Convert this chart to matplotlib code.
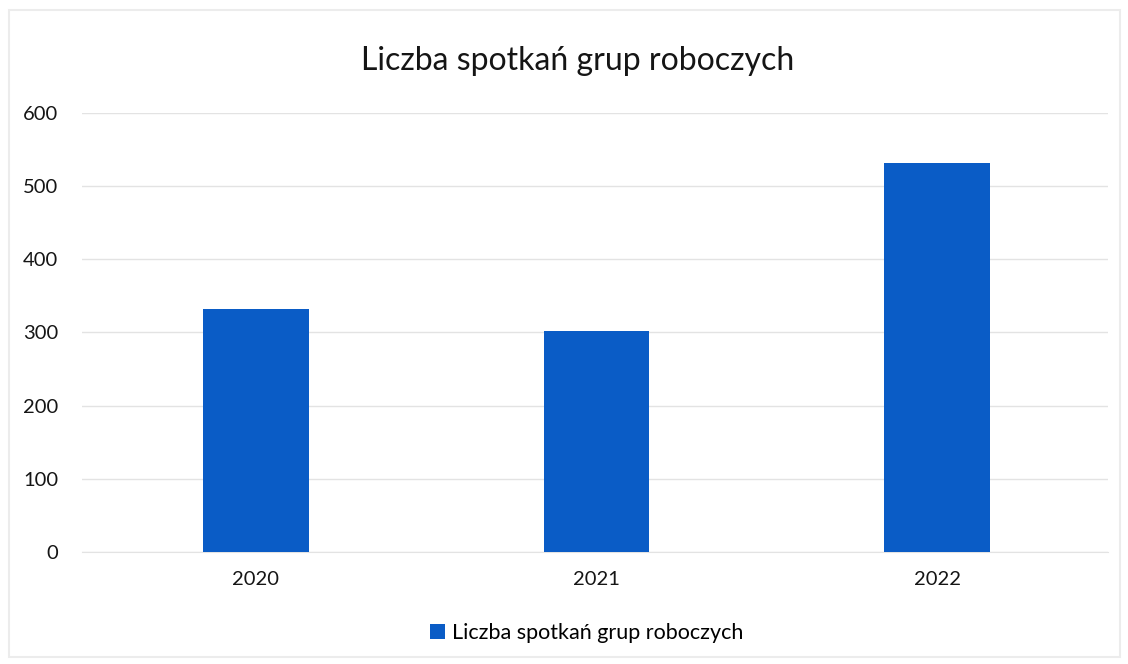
import matplotlib.pyplot as plt

# data
years = ['2020', '2021', '2022']
meetings = [332, 302, 532]
series_name = 'Liczba spotkań grup roboczych'

plt.rcParams['font.family'] = ['Lato', 'DejaVu Sans']

fig = plt.figure(figsize=(11.28, 6.64), dpi=100)
ax = fig.add_axes([0.0727, 0.1687, 0.9093, 0.6613])

bar_color = '#0a5cc6'
ax.bar(range(len(years)), meetings, width=0.31, color=bar_color,
       label=series_name, zorder=3)

ax.set_ylim(0, 600)
ax.set_xlim(-0.51, 2.5)
ax.set_yticks(range(0, 601, 100))
ax.set_xticks(range(len(years)))
ax.set_xticklabels(years)
ax.grid(axis='y', color='#e3e3e3', linewidth=1, zorder=0)
for side in ['top', 'right', 'left']:
    ax.spines[side].set_visible(False)
ax.spines['bottom'].set_color('#e3e3e3')
ax.tick_params(axis='both', length=0, labelsize=14.5, colors='#151515')
ax.tick_params(axis='y', pad=17)
ax.tick_params(axis='x', pad=14)

fig.suptitle(series_name, x=0.512, y=0.93, fontsize=23, color='#151515')

fig.legend(loc='center', bbox_to_anchor=(0.52, 0.046), frameon=False,
           fontsize=15.5, handlelength=0.7, handleheight=0.7, handletextpad=0.3)

# faint border around the chart area
fig.patches.append(plt.Rectangle((0.008, 0.01), 0.985, 0.975, transform=fig.transFigure,
                                 fill=False, edgecolor='#ececec', linewidth=1.5))

fig.savefig('out.png', dpi=100)
